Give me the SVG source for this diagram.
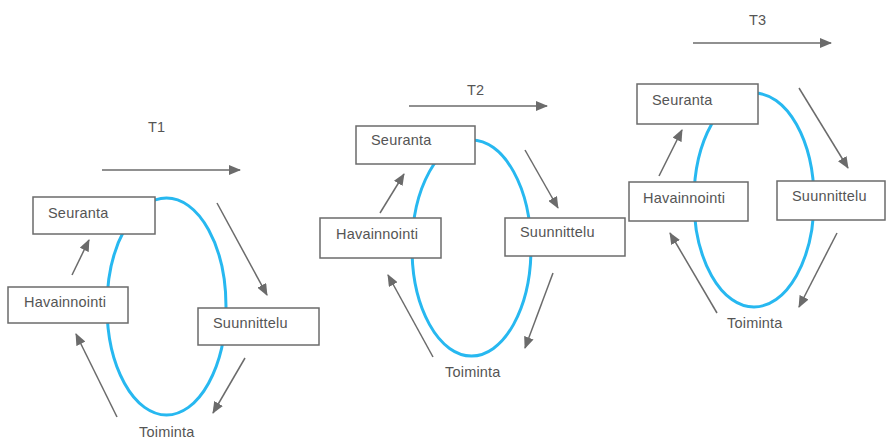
<svg xmlns="http://www.w3.org/2000/svg" width="886" height="439" viewBox="0 0 886 439">
<defs>
<style>
.box{fill:#fff;stroke:#6b6b6b;stroke-width:1.5}
.cyc{fill:none;stroke:#27b8f0;stroke-width:3}
.lbl{font-family:"Liberation Sans",Arial,sans-serif;font-size:14.5px;fill:#555;letter-spacing:0.2px}
.arr{stroke:#6b6b6b;stroke-width:1.5;fill:none;marker-end:url(#ah)}
</style>
<marker id="ah" markerUnits="userSpaceOnUse" markerWidth="12" markerHeight="10" refX="11" refY="5" orient="auto">
<path d="M0,0 L12,5 L0,10 z" fill="#6b6b6b"/>
</marker>
</defs>
<rect width="886" height="439" fill="#fff"/>
<g id="cycles">
<ellipse class="cyc" cx="166.5" cy="306.5" rx="59.5" ry="108.5"/>
<ellipse class="cyc" cx="471.5" cy="248" rx="59.5" ry="108"/>
<ellipse class="cyc" cx="754" cy="200" rx="60" ry="107"/>
</g>
<g id="connectors">
<line class="arr" x1="102" y1="170" x2="240" y2="170"/>
<line class="arr" x1="72" y1="275" x2="89" y2="240"/>
<line class="arr" x1="217" y1="203" x2="267" y2="295"/>
<line class="arr" x1="245" y1="358" x2="213" y2="413"/>
<line class="arr" x1="117" y1="417" x2="76" y2="334"/>
<line class="arr" x1="409" y1="106" x2="547" y2="106"/>
<line class="arr" x1="380" y1="213" x2="404" y2="174"/>
<line class="arr" x1="525" y1="150" x2="558" y2="208"/>
<line class="arr" x1="553" y1="273" x2="525" y2="348"/>
<line class="arr" x1="433" y1="357" x2="388" y2="275"/>
<line class="arr" x1="693" y1="43" x2="831" y2="43"/>
<line class="arr" x1="659" y1="176" x2="682" y2="130"/>
<line class="arr" x1="799" y1="88" x2="848" y2="168"/>
<line class="arr" x1="837" y1="233" x2="799" y2="307"/>
<line class="arr" x1="717" y1="313" x2="670" y2="233"/>
</g>
<g id="t1"><text class="lbl" x="148" y="132">T1</text></g>
<g id="seuranta1"><rect class="box" x="33" y="197" width="122" height="37"/><text class="lbl" x="48" y="218">Seuranta</text></g>
<g id="havainnointi1"><rect class="box" x="8" y="287" width="120" height="36"/><text class="lbl" x="24" y="307">Havainnointi</text></g>
<g id="suunnittelu1"><rect class="box" x="198" y="308" width="121" height="37"/><text class="lbl" x="213" y="328">Suunnittelu</text></g>
<g id="toiminta1"><text class="lbl" x="139" y="437">Toiminta</text></g>
<g id="t2"><text class="lbl" x="467" y="95">T2</text></g>
<g id="seuranta2"><rect class="box" x="356" y="126" width="119" height="38"/><text class="lbl" x="371" y="145">Seuranta</text></g>
<g id="havainnointi2"><rect class="box" x="320" y="218" width="121" height="40"/><text class="lbl" x="336" y="239">Havainnointi</text></g>
<g id="suunnittelu2"><rect class="box" x="505" y="218" width="120" height="38"/><text class="lbl" x="520" y="237">Suunnittelu</text></g>
<g id="toiminta2"><text class="lbl" x="445" y="377">Toiminta</text></g>
<g id="t3"><text class="lbl" x="749" y="25">T3</text></g>
<g id="seuranta3"><rect class="box" x="637" y="84" width="121" height="40"/><text class="lbl" x="652" y="105">Seuranta</text></g>
<g id="havainnointi3"><rect class="box" x="629" y="182" width="119" height="39"/><text class="lbl" x="643" y="203">Havainnointi</text></g>
<g id="suunnittelu3"><rect class="box" x="777" y="181" width="108" height="39"/><text class="lbl" x="792" y="201">Suunnittelu</text></g>
<g id="toiminta3"><text class="lbl" x="727" y="328">Toiminta</text></g>
</svg>
